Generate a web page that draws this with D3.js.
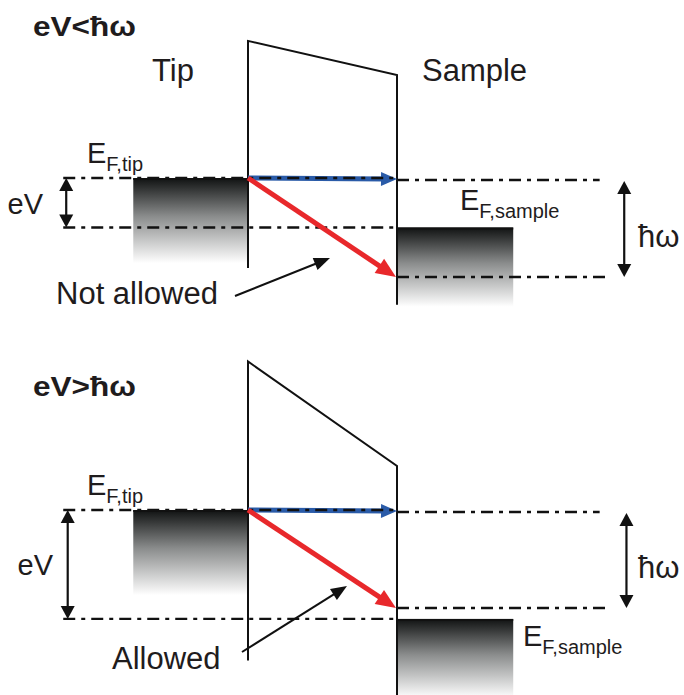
<!DOCTYPE html>
<html>
<head>
<meta charset="utf-8">
<script src="https://cdn.jsdelivr.net/npm/d3@7"></script>
<style>
  html, body { margin: 0; padding: 0; background: #fff; }
  svg { display: block; }
  text { font-family: "Liberation Sans", Arial, Helvetica, sans-serif; fill: #1f1c1d; }
</style>
</head>
<body>
<script>
// ---------- data (energies in units where ħω = 2; 0 = E_F,tip) ----------
const panelTitles = ["eV<\u0127\u03c9", "eV>\u0127\u03c9"];
const biasEV = [1.0, 2.2];             // eV (position of E_F,sample below E_F,tip)
const photonEnergy = [2.0, 1.98];       // ħω
const barrierLeftTop = [-2.77, -3.0];
const barrierRightTop = [-2.08, -0.89];
const barrierLeftBottom = [1.82, 3.04];
const barrierRightBottom = [2.56, 3.74];
const transitionLabels = ["Not allowed", "Allowed"];
const regionLabels = ["Tip", "Sample"];
// x landmarks in barrier-width units (0 = tip surface, 1 = sample surface)
const levelLineStart = -1.24;
const tipBlockStart = -0.77;
const sampleBlockEnd = 1.78;
const upperRightEnd = 2.36;
const lowerRightEnd = 2.41;
const eVArrowX = [-1.22, -1.21];
const hwArrowX = [2.525, 2.54];

// ---------- layout ----------
const W = 684, H = 695;
const panelOrigin = [178, 510];
const unitPx = 49.5;

const svg = d3.select("body").append("svg").attr("width", W).attr("height", H);
const defs = svg.append("defs");
const grad = defs.append("linearGradient").attr("id", "band")
  .attr("x1", 0).attr("y1", 0).attr("x2", 0).attr("y2", 1);
grad.append("stop").attr("offset", "0%").attr("stop-color", "#101212");
grad.append("stop").attr("offset", "45%").attr("stop-color", "#8a8c8c");
grad.append("stop").attr("offset", "100%").attr("stop-color", "#ffffff");

const x = d3.scaleLinear().domain([0, 1]).range([248, 397]);

function arrowHead(g, x1, y1, x2, y2, len, wid, color) {
  const a = Math.atan2(y2 - y1, x2 - x1);
  const bx = x2 - len * Math.cos(a), by = y2 - len * Math.sin(a);
  const nx = -Math.sin(a) * wid / 2, ny = Math.cos(a) * wid / 2;
  g.append("path")
    .attr("d", `M${x2},${y2}L${bx + nx},${by + ny}L${bx - nx},${by - ny}Z`)
    .attr("fill", color);
}
function arrow(g, x1, y1, x2, y2, opt) {
  const a = Math.atan2(y2 - y1, x2 - x1);
  const ex = x2 - (opt.len * 0.8) * Math.cos(a), ey = y2 - (opt.len * 0.8) * Math.sin(a);
  g.append("line").attr("x1", x1).attr("y1", y1).attr("x2", ex).attr("y2", ey)
    .attr("stroke", opt.color).attr("stroke-width", opt.sw);
  arrowHead(g, x1, y1, x2, y2, opt.len, opt.wid, opt.color);
}
function dblArrow(g, xx, y1, y2) {
  const L = 13, Wd = 14;
  g.append("line").attr("x1", xx).attr("x2", xx).attr("y1", y1 + L - 2).attr("y2", y2 - L + 2)
    .attr("stroke", "#111").attr("stroke-width", 2.2);
  arrowHead(g, xx, y2, xx, y1, L, Wd, "#111");
  arrowHead(g, xx, y1, xx, y2, L, Wd, "#111");
}
function dashLine(g, x1, x2, yy) {
  g.append("line").attr("x1", x1).attr("x2", x2).attr("y1", yy).attr("y2", yy)
    .attr("stroke", "#111").attr("stroke-width", 2.4)
    .attr("stroke-dasharray", "12,6,4,6");
}
function fermiLabel(g, xx, yy, sub, big, small) {
  const t = g.append("text").attr("x", xx).attr("y", yy).style("font-size", big + "px");
  t.append("tspan").text("E");
  t.append("tspan").attr("dy", 8).style("font-size", small + "px").text("F," + sub);
}

const eVLabelEnd = [43, 53];
const sampleLabelPos = [[460, -18], [523, 27]];
const pointerFrom = [[235, 296], [242, 652]];
const pointerTo = [[330, 258], [347, 586]];
const textPos = [[56, 304], [112, 669]];
const titleBase = [36, 396];

panelTitles.forEach((title, i) => {
  const y0 = panelOrigin[i];
  const y = d3.scaleLinear().domain([0, 1]).range([y0, y0 + unitPx]);
  const g = svg.append("g");

  // title
  g.append("text").attr("x", 33).attr("y", titleBase[i])
    .style("font-size", "27px").style("font-weight", "bold")
    .attr("textLength", 103).attr("lengthAdjust", "spacingAndGlyphs")
    .text(title);

  if (i === 0) {
    g.append("text").attr("x", 152).attr("y", 81).style("font-size", "31px").text(regionLabels[0]);
    g.append("text").attr("x", 422).attr("y", 81).style("font-size", "31px").text(regionLabels[1]);
  }

  // bands
  g.append("rect").attr("x", x(tipBlockStart)).attr("y", y(0))
    .attr("width", x(0) - x(tipBlockStart)).attr("height", y(1.72) - y(0))
    .attr("fill", "url(#band)");
  g.append("rect").attr("x", x(1)).attr("y", y(biasEV[i]))
    .attr("width", x(sampleBlockEnd) - x(1)).attr("height", Math.min(y(biasEV[i] + 1.6), H + 20) - y(biasEV[i]))
    .attr("fill", "url(#band)");
  g.append("line").attr("x1", x(tipBlockStart)).attr("x2", x(0)).attr("y1", y(0) + 1).attr("y2", y(0) + 1)
    .attr("stroke", "#111").attr("stroke-width", 2);
  g.append("line").attr("x1", x(1)).attr("x2", x(sampleBlockEnd)).attr("y1", y(biasEV[i]) + 1).attr("y2", y(biasEV[i]) + 1)
    .attr("stroke", "#111").attr("stroke-width", 2);

  // barrier
  g.append("path")
    .attr("d", d3.line()([
      [x(0), y(barrierLeftBottom[i])], [x(0), y(barrierLeftTop[i])],
      [x(1), y(barrierRightTop[i])], [x(1), Math.min(y(barrierRightBottom[i]), H + 5)]
    ]))
    .attr("fill", "none").attr("stroke", "#111").attr("stroke-width", 2);

  // blue elastic arrow
  arrow(g, x(0), y(0), x(1), y(0.02), { color: "#2a5ba8", sw: 5, len: 16, wid: 14 });

  // level lines
  dashLine(g, x(levelLineStart), x(1), y(0));
  dashLine(g, x(1), x(upperRightEnd), y(0.04));
  dashLine(g, x(levelLineStart), x(1), y(biasEV[i]));
  dashLine(g, x(1), x(lowerRightEnd), y(photonEnergy[i]));

  // red inelastic arrow
  arrow(g, x(0), y(0), x(1) - 1, y(photonEnergy[i]), { color: "#e8282b", sw: 5, len: 20, wid: 17 });

  // eV and ħω arrows
  dblArrow(g, x(eVArrowX[i]), y(0), y(biasEV[i]));
  dblArrow(g, x(hwArrowX[i]), y(0.06), y(photonEnergy[i]));
  g.append("text").attr("x", eVLabelEnd[i]).attr("y", (y(0) + y(biasEV[i])) / 2 + 11)
    .attr("text-anchor", "end").style("font-size", "29px").text("eV");
  g.append("text").attr("x", 638).attr("y", (y(0) + y(photonEnergy[i])) / 2 + 19)
    .style("font-size", "31px").text("\u0127\u03c9");

  // Fermi labels
  fermiLabel(g, 87, y(0) - 15, "tip", 29, 20);
  fermiLabel(g, sampleLabelPos[i][0], y(biasEV[i]) + sampleLabelPos[i][1], "sample", 29, 20);

  // transition labels with pointer
  g.append("text").attr("x", textPos[i][0]).attr("y", textPos[i][1])
    .style("font-size", "31px").text(transitionLabels[i]);
  arrow(g, pointerFrom[i][0], pointerFrom[i][1], pointerTo[i][0], pointerTo[i][1],
    { color: "#111", sw: 2, len: 16, wid: 13 });
});
</script>
</body>
</html>
